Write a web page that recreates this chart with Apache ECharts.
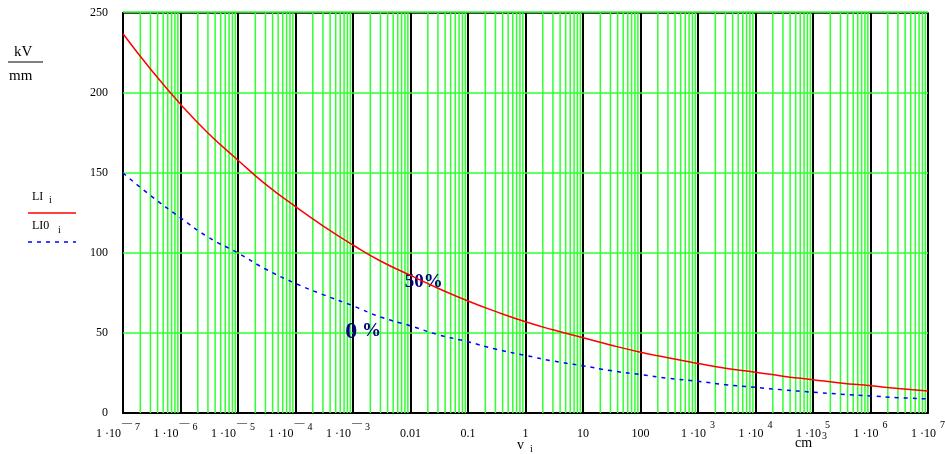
<!DOCTYPE html>
<html>
<head>
<meta charset="utf-8">
<script src="https://cdn.jsdelivr.net/npm/echarts@6/dist/echarts.min.js"></script>
<style>html,body{margin:0;padding:0;background:#fff}#c{width:945px;height:454px}</style>
</head>
<body>
<div id="c"></div>
<script>
// x values (volume, cm^3), log scale
const xValues = [1e-7,3e-7,1e-6,3e-6,1e-5,3e-5,1e-4,3e-4,1e-3,3e-3,1e-2,3e-2,0.1,0.3,1,3,10,30,100,300,1e3,3e3,1e4,3e4,1e5,3e5,1e6,3e6,1e7];
// LI (50%) in kV/mm
const liValues = [237,215,193,175,158,143,129,117,105,95,86,78,70,63.5,57,52,47,42.5,38,34.5,31,28,25.5,23,20.8,18.8,17,15.3,13.8];
// LI0 (0%) in kV/mm
const li0Values = [150,136,122,110,100,90,81,74,67,60,54.5,49,44.5,40,36,32.5,29.5,26.5,24,21.7,19.8,17.7,16,14.5,13,11.8,10.7,9.6,8.8];
// x tick labels per decade 1e-7 .. 1e7
const xTickBase = ['1 ·10','1 ·10','1 ·10','1 ·10','1 ·10','0.01','0.1','1','10','100','1 ·10','1 ·10','1 ·10','1 ·10','1 ·10'];
const xTickExp  = ['−7','−6','−5','−4','−3','','','','','','3','4','5','6','7'];
const yTicks = [0,50,100,150,200,250];

// minor grid positions 2..9 per decade
const minorGrid = [];
for (let e = -7; e < 7; e++) for (let k = 2; k <= 9; k++) minorGrid.push(k * Math.pow(10, e));

const GREEN = '#30ff30';
const SERIF = '"Liberation Serif","DejaVu Serif",serif';
const chart = echarts.init(document.getElementById('c'));
chart.setOption({
  animation: false,
  grid: {left: 123, right: 17, top: 13, bottom: 41, containLabel: false, outerBoundsMode: 'none',
    show: true, borderColor: '#000', borderWidth: 1.5, backgroundColor: 'transparent'},
  xAxis: {
    type: 'log', logBase: 10, min: 1e-7, max: 1e7, interval: 1,
    axisLine: {show: true, lineStyle: {color: '#000', width: 2}},
    axisTick: {show: false},
    minorTick: {show: false},
    minorSplitLine: {show: false},
    splitLine: {show: true, lineStyle: {color: '#000', width: 2}},
    axisLabel: {
      margin: 13, color: '#000', fontFamily: SERIF, fontSize: 12, hideOverlap: false,
      formatter: function (v) {
        const i = Math.round(Math.log10(v)) + 7;
        const b = xTickBase[i], ex = xTickExp[i];
        if (!ex) return '{b|' + b + '}';
        if (ex.charAt(0) === '−') return '{b|' + b + '}{m|—}{d|' + ex.slice(1) + '}{s1| }';
        return '{b|' + b + '}{p|' + ex + '}';
      },
      rich: {
        b: {fontFamily: SERIF, fontSize: 12, color: '#000', lineHeight: 14, padding: [8, 0, 0, 0], verticalAlign: 'bottom'},
        m: {fontFamily: SERIF, fontSize: 10, color: '#000', lineHeight: 10, padding: [0, 2, 12, 1], verticalAlign: 'bottom'},
        d: {fontFamily: SERIF, fontSize: 10, color: '#000', lineHeight: 10, padding: [0, 0, 8, 1], verticalAlign: 'bottom'},
        p: {fontFamily: SERIF, fontSize: 10, color: '#000', lineHeight: 10, padding: [0, 0, 10, 4], verticalAlign: 'bottom'},
        s1: {width: 10, fontSize: 10, lineHeight: 10, verticalAlign: 'bottom'}
      }
    }
  },
  yAxis: {
    type: 'value', min: 0, max: 250, interval: 50,
    axisLine: {show: true, lineStyle: {color: '#000', width: 2}},
    axisTick: {show: false},
    splitLine: {show: false},
    axisLabel: {margin: 15, color: '#000', fontFamily: SERIF, fontSize: 12,
      formatter: v => yTicks.indexOf(v) >= 0 ? String(v) : ''}
  },
  series: [
    {
      // green minor vertical grid (2..9 per decade)
      type: 'custom', z: 1, silent: true, clip: true,
      data: minorGrid.map(v => [v]),
      encode: {x: 0},
      renderItem: function (params, api) {
        const v = api.value(0);
        const p0 = api.coord([v, 0]);
        const p1 = api.coord([v, 250]);
        return {type: 'line', shape: {x1: p0[0], y1: p0[1], x2: p0[0], y2: p1[1]},
          style: {stroke: GREEN, lineWidth: 1.5}};
      }
    },
    {
      // green horizontal grid at y ticks
      type: 'custom', z: 1, silent: true,
      data: yTicks.filter(t => t > 0).map(t => [1e-7, t]),
      encode: {x: 0, y: 1},
      renderItem: function (params, api) {
        const t = api.value(1);
        const p0 = api.coord([1e-7, t]);
        const p1 = api.coord([1e7, t]);
        const y = p0[1] - (t === 250 ? 1 : 0);
        return {type: 'line', shape: {x1: p0[0], y1: y, x2: p1[0], y2: y},
          style: {stroke: GREEN, lineWidth: 1.5}};
      }
    },
    {
      name: 'LI', type: 'line', z: 5, smooth: true, showSymbol: false, symbol: 'none',
      data: xValues.map((x, i) => [x, liValues[i]]),
      lineStyle: {color: '#ff0000', width: 1.5},
      markPoint: {
        symbol: 'circle', symbolSize: 0, silent: true,
        label: {show: true, position: 'inside', formatter: '50%', color: '#000080',
          fontFamily: SERIF, fontWeight: 'bold', fontSize: 19},
        data: [{coord: [0.017, 82]}]
      }
    },
    {
      name: 'LI0', type: 'line', z: 5, smooth: true, showSymbol: false, symbol: 'none',
      data: xValues.map((x, i) => [x, li0Values[i]]),
      lineStyle: {color: '#0000ff', width: 1.5, type: [4, 5]},
      markPoint: {
        symbol: 'circle', symbolSize: 0, silent: true,
        label: {show: true, position: 'inside', formatter: '{a|0}{b| %}',
          rich: {a: {color: '#000080', fontFamily: SERIF, fontWeight: 'bold', fontSize: 24},
                 b: {color: '#000080', fontFamily: SERIF, fontWeight: 'bold', fontSize: 19}}},
        data: [{coord: [0.0015, 51]}]
      }
    }
  ],
  graphic: [
    {type: 'text', left: 14, top: 45, style: {text: 'kV', font: '15px ' + SERIF, fill: '#000'}},
    {type: 'line', shape: {x1: 8, y1: 62, x2: 43, y2: 62}, style: {stroke: '#000', lineWidth: 1}},
    {type: 'text', left: 9, top: 69, style: {text: 'mm', font: '15px ' + SERIF, fill: '#000'}},
    {type: 'text', left: 32, top: 191, style: {text: 'LI', font: '12px ' + SERIF, fill: '#000'}},
    {type: 'text', left: 49, top: 195, style: {text: 'i', font: '10px ' + SERIF, fill: '#000'}},
    {type: 'line', shape: {x1: 28, y1: 213, x2: 76, y2: 213}, style: {stroke: '#ff0000', lineWidth: 1.5}},
    {type: 'text', left: 32, top: 220, style: {text: 'LI0', font: '12px ' + SERIF, fill: '#000'}},
    {type: 'text', left: 58, top: 225, style: {text: 'i', font: '10px ' + SERIF, fill: '#000'}},
    {type: 'line', shape: {x1: 28, y1: 242, x2: 76, y2: 242}, style: {stroke: '#0000ff', lineWidth: 1.5, lineDash: [4, 5]}},
    {type: 'text', left: 517, top: 438, style: {text: 'v', font: '14px ' + SERIF, fill: '#000'}},
    {type: 'text', left: 530, top: 444, style: {text: 'i', font: '10px ' + SERIF, fill: '#000'}},
    {type: 'text', left: 795, top: 436, style: {text: 'cm', font: '14px ' + SERIF, fill: '#000'}},
    {type: 'text', left: 822, top: 431, style: {text: '3', font: '10px ' + SERIF, fill: '#000'}}
  ]
});
</script>
</body>
</html>
